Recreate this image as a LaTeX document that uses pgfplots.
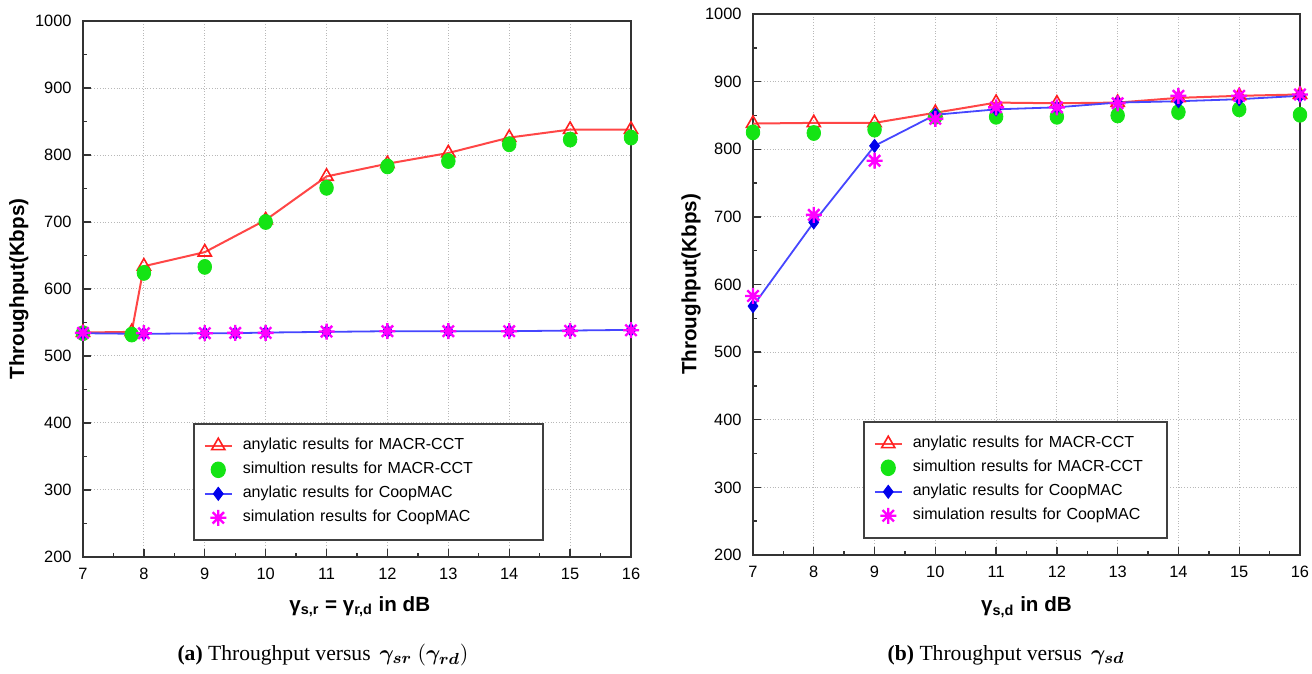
\documentclass[border=0pt]{standalone}
\usepackage{fontspec}
\setmainfont{Liberation Serif}
\setsansfont{Liberation Sans}
\usepackage{bm}
\usepackage{pgfplots}
\pgfplotsset{compat=1.18}

\definecolor{cRed}{RGB}{255,30,30}
\definecolor{cRedLine}{RGB}{255,70,70}
\definecolor{cGreen}{RGB}{20,228,20}
\definecolor{cBlue}{RGB}{0,0,235}
\definecolor{cBlueLine}{RGB}{70,70,255}
\definecolor{cMag}{RGB}{255,0,255}

% eight-armed asterisk for the CoopMAC simulation points
\pgfdeclareplotmark{star8}{%
  \pgfpathmoveto{\pgfqpointpolar{0}{\pgfplotmarksize}}\pgfpathlineto{\pgfqpointpolar{180}{\pgfplotmarksize}}%
  \pgfpathmoveto{\pgfqpointpolar{90}{\pgfplotmarksize}}\pgfpathlineto{\pgfqpointpolar{270}{\pgfplotmarksize}}%
  \pgfpathmoveto{\pgfqpointpolar{45}{\pgfplotmarksize}}\pgfpathlineto{\pgfqpointpolar{225}{\pgfplotmarksize}}%
  \pgfpathmoveto{\pgfqpointpolar{135}{\pgfplotmarksize}}\pgfpathlineto{\pgfqpointpolar{315}{\pgfplotmarksize}}%
  \pgfusepathqstroke}

\pgfplotsset{
  shortimg/.style={legend image code/.code={%
      \draw[mark repeat=2,mark phase=2,##1] plot coordinates {(0pt,0pt)(6.75pt,0pt)(13.5pt,0pt)};}},
  anaMACR/.style={color=cRedLine, line width=1pt, mark=triangle,
      mark size=3.8pt, mark options={cRed, line width=0.8pt, fill=none}, shortimg},
  simMACR/.style={only marks, mark=*, mark size=3.4pt,
      mark options={draw=cGreen, fill=cGreen, yscale=1.1}, shortimg},
  anaCoop/.style={color=cBlueLine, line width=0.9pt, mark=diamond*,
      mark size=3.3pt, mark options={draw=cBlue, fill=cBlue, line width=0.4pt}, shortimg},
  simCoop/.style={only marks, mark=star8, mark size=4pt,
      mark options={draw=cMag, line width=1.2pt}, shortimg},
  thru/.style={
    scale only axis, anchor=south west,
    xmin=7, xmax=16, ymin=200, ymax=1000,
    xtick={7,...,16}, ytick={200,300,...,1000},
    minor x tick num=1, minor y tick num=1,
    tick pos=left, tick align=inside,
    major tick length=4pt, minor tick length=2pt,
    tick style={black!80, line width=0.7pt},
    axis line style={black!80, line width=0.9pt},
    grid=major, grid style={densely dotted, black!28, line width=0.5pt},
    clip=false,
    /pgf/number format/assume math mode=true,
    /pgf/number format/1000 sep={},
    ticklabel style={font=\sffamily\fontsize{8.2}{10}\selectfont},
    xticklabel style={yshift=-2.2pt},
    yticklabel style={xshift=-2.2pt},
    label style={font=\sffamily\bfseries\fontsize{10.3}{12}\selectfont},
    ylabel={Throughput(Kbps)},
    legend cell align=left,
    legend style={anchor=north west, draw=black!75, line width=0.8pt, fill=white,
      inner xsep=5pt, inner ysep=5pt, row sep=0pt, column sep=3pt,
      font=\sffamily\fontsize{8}{9.6}\selectfont,
      nodes={inner sep=2pt, text height=6pt, text depth=2pt}},
  },
}

\begin{document}
\begin{tikzpicture}
\useasboundingbox (0,0) rectangle (656pt,337pt);

% ---------- (a) throughput against the relay links ----------
\begin{axis}[thru,
  at={(41.5pt,58.5pt)}, width=274pt, height=268pt,
  xlabel={γ\textsubscript{s,r} = γ\textsubscript{r,d} in dB},
  xlabel style={at={(axis description cs:0.505,-0.093)}, anchor=center},
  ylabel style={at={(axis description cs:-0.117,0.5)}, anchor=center},
  legend style={at={(axis description cs:0.2007,0.25)},
    nodes={text width=143pt}},
]
\addplot[anaMACR] coordinates {(7,535)(7.8,536)(8,634)(9,655)(10,703)(11,768)(12,787)(13,803)(14,826)(15,838)(16,838)};
\addlegendentry{anylatic results for MACR-CCT}
\addplot[simMACR] coordinates {(7,534)(7.8,532)(8,624)(9,633)(10,700)(11,751)(12,783)(13,791)(14,816)(15,823)(16,826)};
\addlegendentry{simultion results for MACR-CCT}
\addplot[anaCoop] coordinates {(7,534)(8,533)(9,534)(9.5,534)(10,535)(11,536)(12,537)(13,537)(14,537)(15,538)(16,539)};
\addlegendentry{anylatic results for CoopMAC}
\addplot[simCoop] coordinates {(7,534.5)(8,534)(9,534)(9.5,534.5)(10,534.5)(11,536.5)(12,537)(13,537)(14,537)(15,537.5)(16,538.5)};
\addlegendentry{simulation results for CoopMAC}
\end{axis}

% ---------- (b) throughput against the direct link ----------
\begin{axis}[thru,
  at={(376.5pt,59.5pt)}, width=273.5pt, height=270.5pt,
  xlabel={γ\textsubscript{s,d} in dB},
  xlabel style={at={(axis description cs:0.5,-0.096)}, anchor=center},
  ylabel style={at={(axis description cs:-0.113,0.5)}, anchor=center},
  legend style={at={(axis description cs:0.201,0.2477)},
    nodes={text width=120pt}},
]
\addplot[anaMACR] coordinates {(7,838)(8,839)(9,839)(10,854)(11,869)(12,868)(13,869)(14,876)(15,879)(16,881)};
\addlegendentry{anylatic results for MACR-CCT}
\addplot[simMACR] coordinates {(7,825)(8,824)(9,829)(10,848)(11,848)(12,848)(13,850)(14,855)(15,859)(16,851)};
\addlegendentry{simultion results for MACR-CCT}
\addplot[anaCoop] coordinates {(7,568)(8,692)(9,805)(10,851)(11,859)(12,862)(13,869)(14,871)(15,874)(16,879)};
\addlegendentry{anylatic results for CoopMAC}
\addplot[simCoop] coordinates {(7,583)(8,703)(9,783)(10,845)(11,862)(12,862)(13,868)(14,879)(15,879)(16,881)};
\addlegendentry{simulation results for CoopMAC}
\end{axis}

% sub-captions
\node[font=\fontsize{10.8}{13}\selectfont, anchor=center] at (161.5pt,9.5pt)
  {\textbf{(a)} Throughput versus \,$\bm{\gamma_{sr}}$ $(\bm{\gamma_{rd}})$};
\node[font=\fontsize{10.8}{13}\selectfont, anchor=center] at (503pt,9.5pt)
  {\textbf{(b)} Throughput versus \,$\bm{\gamma_{sd}}$};
\end{tikzpicture}
\end{document}
